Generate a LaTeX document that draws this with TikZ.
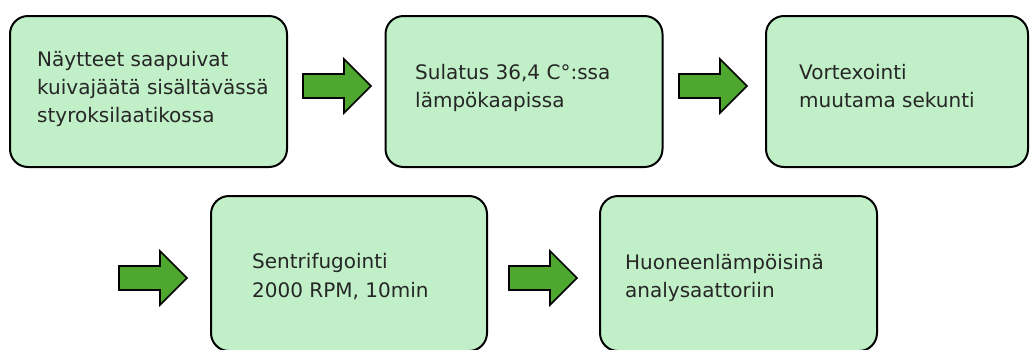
\documentclass[tikz,border=0pt]{standalone}
\usepackage{fontspec}
\setmainfont{DejaVu Sans}
\definecolor{boxfill}{HTML}{C1F0C8}
\definecolor{arrowfill}{HTML}{4EA72E}
\definecolor{txt}{HTML}{262626}
\begin{document}
\begin{tikzpicture}[x=1pt,y=-1pt,
  stepbox/.style={draw=black, line width=2pt, rounded corners=18pt, fill=boxfill,
    minimum width=277pt, minimum height=151pt, inner sep=0pt},
  lbl/.style={anchor=base west, inner sep=0pt, text=txt,
    font=\fontsize{20}{28}\selectfont},
  blockarrow/.style={draw=black, line width=1.6pt, fill=arrowfill, line join=miter},
  pics/barrow/.style={code={
    \draw[blockarrow] (0,-12) -- (41,-12) -- (41,-27) -- (68,0) -- (41,27) -- (41,12) -- (0,12) -- cycle;}}
]
\useasboundingbox (0,0) rectangle (1030,349);
\clip (0,0) rectangle (1030,349);

% boxes
\node[stepbox] (b1) at (148.5,91.5) {};
\node[stepbox] (b2) at (524,91.5) {};
\node[stepbox, minimum width=262pt] (b3) at (897,91.5) {};
\node[stepbox, minimum width=276pt, minimum height=155pt] (b4) at (349,273.5) {};
\node[stepbox, minimum height=155pt] (b5) at (738.5,273.5) {};

% block arrows
\pic at (303,86) {barrow};
\pic at (679,86) {barrow};
\pic at (119,278) {barrow};
\pic at (509,278) {barrow};

% texts
\node[lbl] (t1a) at (37,66) {Näytteet saapuivat};
\node[lbl] (t1b) at (37,94) {kuivajäätä sisältävässä};
\node[lbl] (t1c) at (37,122) {styroksilaatikossa};

\node[lbl] (t2a) at (415,79) {Sulatus 36,4 C°:ssa};
\node[lbl] (t2b) at (415,107) {lämpökaapissa};

\node[lbl] (t3a) at (799,79) {Vortexointi};
\node[lbl] (t3b) at (799,107) {muutama sekunti};

\node[lbl] (t4a) at (252,268) {Sentrifugointi};
\node[lbl] (t4b) at (252,297) {2000 RPM, 10min};

\node[lbl] (t5a) at (625,269) {Huoneenlämpöisinä};
\node[lbl] (t5b) at (625,297) {analysaattoriin};
\end{tikzpicture}
\end{document}
